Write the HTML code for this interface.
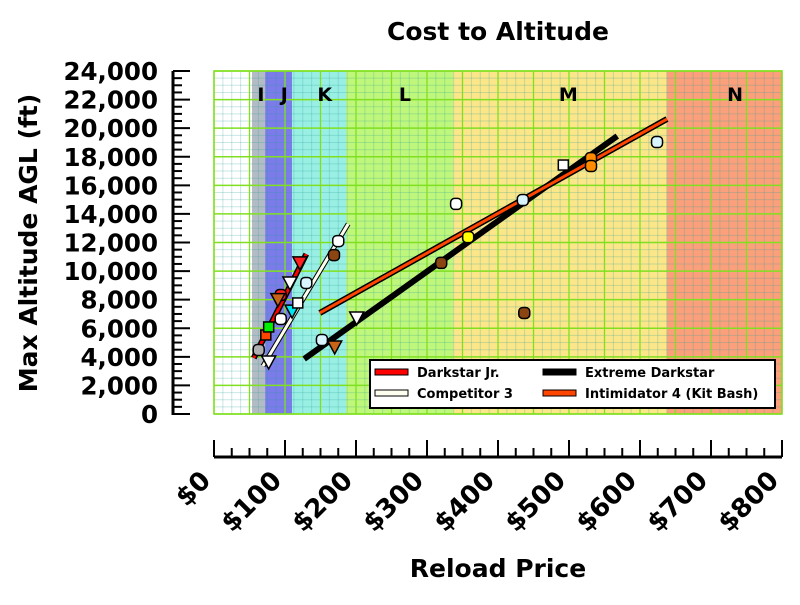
<!DOCTYPE html>
<html><head><meta charset="utf-8"><style>
body{margin:0;background:#fff}
svg text{font-family:"DejaVu Sans","Liberation Sans",sans-serif;font-weight:bold}
</style></head><body>
<svg id="c" width="800" height="600" xmlns="http://www.w3.org/2000/svg">
<text x="498" y="40" text-anchor="middle" font-size="25">Cost to Altitude</text>
<text x="498" y="577" text-anchor="middle" font-size="25">Reload Price</text>
<text transform="translate(37,243) rotate(-90)" text-anchor="middle" font-size="25">Max Altitude AGL (ft)</text>
<g id="bands"></g><g id="grid"></g><g id="labels"></g><g id="axes"></g><g id="lines"></g><g id="pts"></g><g id="legend"></g>
</svg>
<script>
const bandStarts=[0,53.5,72,110,186,337,638];
const bandEnds=[53.5,72,110,186,337,638,800];
const bandColors=['#ffffff','#b3bcc4','#7b7bea','#9aefe4','#bff77c','#fbe68a','#fca07c'];
const bandLabels=['','I','J','K','L','M','N'];
const bandLabelX=[0,66,99,156,269,499,734];
const yTicks=[0,2000,4000,6000,8000,10000,12000,14000,16000,18000,20000,22000,24000];
const xTicks=[0,100,200,300,400,500,600,700,800];
const lineNames=['Darkstar Jr.','Competitor 3','Extreme Darkstar','Intimidator 4 (Kit Bash)'];
const lineX1=[56,69,127,149];
const lineY1=[3920,3360,3850,7070];
const lineX2=[130,189,568,638];
const lineY2=[11190,13300,19450,20640];
const ptX=[63,73,77,94,90,77,94,110,118,107,121,130,175,169,152,170,201,341,358,320,437,435,492,531,531,624];
const ptY=[4480,5530,6090,8330,8000,3640,6650,7200,7770,9170,10570,9170,12100,11120,5180,4690,6720,14700,12380,10570,7070,14970,17420,17900,17350,19030];
const ptShape=['c','s','s','c','v','v','c','v','s','v','v','c','c','c','c','v','v','c','c','c','c','c','s','c','c','c'];
const ptColor=['#b0b0b0','#ff4500','#00ee00','#ff2020','#c86418','#ffffff','#ffffff','#00e5ee','#ffffff','#ffffff','#ff2020','#d8f4ff','#ffffff','#8b4513','#d8f4ff','#c86418','#ffffff','#ffffff','#ffff00','#8b4513','#8b4513','#d8f4ff','#ffffff','#ff8c00','#ff8c00','#d8f4ff'];
const NS='http://www.w3.org/2000/svg';
const X0=214,X1=782,Y0=414,Y1=71;
const sx=v=>X0+(X1-X0)*v/800, sy=v=>Y0-(Y0-Y1)*v/24000;
function mk(p,t,a){const e=document.createElementNS(NS,t);for(const k in a)e.setAttribute(k,a[k]);document.getElementById(p).appendChild(e);return e;}
bandStarts.forEach((s,i)=>{
 const r=mk('bands','rect',{x:sx(s),y:Y1,width:sx(bandEnds[i])-sx(s),height:Y0-Y1,fill:bandColors[i]});
 
 
 if(bandLabels[i]){const t=mk('labels','text',{x:sx(bandLabelX[i]),y:101,'text-anchor':'middle','font-size':19});t.textContent=bandLabels[i];
 
 }
});
for(let v=0;v<=800;v+=12.5){mk('grid','line',{x1:sx(v),x2:sx(v),y1:Y1,y2:Y0,stroke:'rgba(40,160,150,0.25)','stroke-width':1});}
for(let v=0;v<=24000;v+=500){mk('grid','line',{x1:X0,x2:X1,y1:sy(v),y2:sy(v),stroke:'rgba(40,160,150,0.25)','stroke-width':1});}
for(let v=0;v<=800;v+=50){mk('grid','line',{x1:sx(v),x2:sx(v),y1:Y1,y2:Y0,stroke:'#80e020','stroke-width':1.3});}
for(let v=0;v<=24000;v+=2000){mk('grid','line',{x1:X0,x2:X1,y1:sy(v),y2:sy(v),stroke:'#80e020','stroke-width':1.5});}
mk('grid','rect',{x:X0,y:Y1,width:X1-X0,height:Y0-Y1,fill:'none',stroke:'#80e020','stroke-width':1.5});
mk('axes','line',{x1:173,x2:173,y1:Y1,y2:Y0+1,stroke:'#000','stroke-width':3});
for(let v=0;v<=24000;v+=500){const maj=v%2000===0;mk('axes','line',{x1:173,x2:maj?190:182,y1:sy(v),y2:sy(v),stroke:'#000','stroke-width':2});}
yTicks.forEach(v=>{const t=mk('axes','text',{x:158,y:sy(v)+9,'text-anchor':'end','font-size':24.5});t.textContent=v.toLocaleString('en-US');
 
 });
mk('axes','line',{x1:X0,x2:X1,y1:457,y2:457,stroke:'#000','stroke-width':3});
for(let v=0;v<=800;v+=25){const maj=v%100===0;mk('axes','line',{x1:sx(v),x2:sx(v),y1:457,y2:maj?440:448,stroke:'#000','stroke-width':2});}
xTicks.forEach(v=>{const x=sx(v)-2,y=482;const t=mk('axes','text',{x:x,y:y,'text-anchor':'end','font-size':26,transform:`rotate(-45 ${x} ${y})`});t.textContent='$'+v;
 
 });
const lc=['#ff0000','#fffff0','#000000','#ff4500'];
lineNames.forEach((n,i)=>{
 const a={x1:sx(lineX1[i]),y1:sy(lineY1[i]),x2:sx(lineX2[i]),y2:sy(lineY2[i])};
 if(i!==2){mk('lines','line',Object.assign({stroke:'#000','stroke-width':i===1?5:6},a));}
 const l=mk('lines','line',Object.assign({stroke:lc[i],'stroke-width':i===2?6:3},a));
 
 
});
ptX.forEach((v,i)=>{
 const x=sx(v),y=sy(ptY[i]);let e;
 if(ptShape[i]==='c')e=mk('pts','rect',{x:x-5.5,y:y-5.5,width:11,height:11,rx:4,fill:ptColor[i],stroke:'#000','stroke-width':1.5});
 else if(ptShape[i]==='s')e=mk('pts','rect',{x:x-5,y:y-5,width:10,height:10,fill:ptColor[i],stroke:'#000','stroke-width':1.5});
 else e=mk('pts','polygon',{points:`${x-7},${y-6} ${x+7},${y-6} ${x},${y+7}`,fill:ptColor[i],stroke:'#000','stroke-width':1.5});
 
 
});
const lg=mk('legend','rect',{x:370,y:360,width:405,height:48,fill:'#fff',stroke:'#000','stroke-width':2});


const lgX=[375,375,543,543],lgY=[372,393,372,393];
lineNames.forEach((n,i)=>{
 mk('legend','rect',{x:lgX[i],y:lgY[i]-3,width:33,height:6,fill:lc[i],stroke:'#000','stroke-width':1});
 const t=mk('legend','text',{x:lgX[i]+42,y:lgY[i]+5,'font-size':13});t.textContent=n;
 
 
});
</script>
</body></html>
